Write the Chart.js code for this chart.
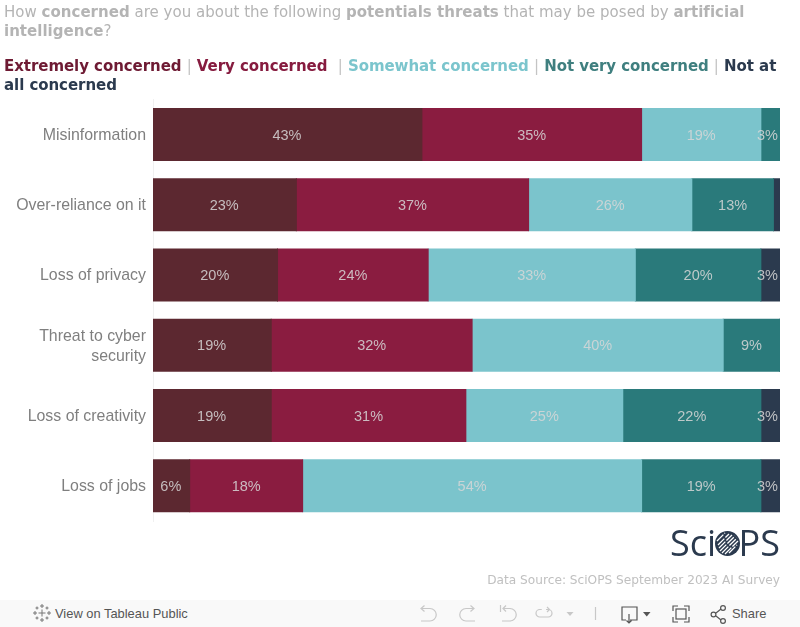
<!DOCTYPE html>
<html>
<head>
<meta charset="utf-8">
<script src="https://cdn.jsdelivr.net/npm/chart.js@4"></script>
<style>
  html, body { margin: 0; padding: 0; background: #fff; overflow: hidden; }
  #wrap { position: relative; width: 800px; height: 627px; }
  #chart { position: absolute; left: 0; top: 0; }
  .txt { position: absolute; white-space: nowrap; font-family: "DejaVu Sans", sans-serif; }
  #title { left: 4px; top: 3px; font-size: 15px; letter-spacing: 0.02px; line-height: 19px; color: #b4b4b4; }
  #legend { left: 4px; top: 57px; font-size: 15px; letter-spacing: -0.055px; line-height: 19px; color: #c4c4c4; font-weight: bold; }
  #legend .sep { font-weight: normal; }
  #source { right: 20px; top: 573px; font-size: 12.17px; color: #c0c0c0; }
  .logo { position: absolute; font-family: "Open Sans", sans-serif; font-weight: 400; font-size: 36px; line-height: 37px; color: #2b3a4e; top: 524px; white-space: nowrap; }
  #toolbar { position: absolute; left: 0; top: 600px; width: 800px; height: 27px; background: #f9f9f9; }
  #toolbar span { position: absolute; top: 6px; font-family: "Liberation Sans", sans-serif; font-size: 12.9px; color: #555; white-space: nowrap; }
  #icons { position: absolute; left: 0; top: 0; }
</style>
</head>
<body>
<div id="wrap">
  <canvas id="chart" width="800" height="627"></canvas>
  <div class="txt" id="title">How <b>concerned</b> are you about the following <b>potentials threats</b> that may be posed by <b>artificial</b><br><b>intelligence</b>?</div>
  <div class="txt" id="legend"></div>
  <div class="logo" style="left:670px">Sci</div>
  <svg style="position:absolute;left:714px;top:530px" width="27" height="27" viewBox="0 0 27 27">
    <defs><clipPath id="disc"><circle cx="13.5" cy="13.5" r="12.5"/></clipPath></defs>
    <circle cx="13.5" cy="13.5" r="12.5" fill="#2b3a4e"/>
    <g clip-path="url(#disc)" stroke="#fff" stroke-width="1.3" stroke-dasharray="9 1.5">
      <path d="M3 11L11 3M4 15L15 4M5 18L18 5M6 21L21 6M8 23L23 8M11 24L24 11M15 23L23 15"/>
    </g>
  </svg>
  <div class="logo" style="left:738.5px">PS</div>
  <div class="txt" id="source">Data Source: SciOPS September 2023 AI Survey</div>
  <div id="toolbar">
    <svg id="icons" width="800" height="27" fill="none" stroke-width="1.2">
      <g stroke="#777" stroke-width="1">
        <path d="M42 9.500v7M38.500 13h7"/>
        <path d="M42 4v4M40 6h4M42 18v4M40 20h4M35 11v4M33 13h4M49 11v4M47 13h4"/>
        <path d="M37 6.500v3M35.500 8h3M47 6.500v3M45.500 8h3M37 16.500v3M35.500 18h3M47 16.500v3M45.500 18h3"/>
      </g>
      <g stroke="#c8c8c8">
        <path d="M422 8.500h8a6.250 6.250 0 0 1 0 12.500h-9M424.500 5.500L421 8.500L424.500 11.500"/>
        <path d="M474 8.500h-8a6.250 6.250 0 0 0 0 12.500h9M470.500 5.500L474 8.500L470.500 11.500"/>
        <path d="M503 8.500h7a6.250 6.250 0 0 1 0 12.500h-8M506 5.500L503 8.500L506 11.500M500.500 5v7"/>
        <path d="M546 9.500h2.250a3.750 3.750 0 0 1 0 7.500h-8.500a3.750 3.750 0 0 1 0-7.500h2M547 7l2.500 2.500L547 12"/>
        <path d="M595.500 7v13"/>
      </g>
      <path d="M566.500 12h7l-3.500 4z" fill="#c8c8c8"/>
      <g stroke="#555">
        <path d="M626 20h-4V7h15v13h-7M629 14v9M626.500 20.500l2.500 2.500l2.500-2.500"/>
        <path d="M673 11V6h5M684 6h5v5M689 17v5h-5M678 22h-5v-5"/>
        <rect x="676" y="9" width="10" height="10"/>
        <circle cx="723" cy="8" r="2.400"/><circle cx="723" cy="21" r="2.400"/><circle cx="713.500" cy="14.500" r="2.400"/>
        <path d="M716 13l5-4M716 16l5 4"/>
      </g>
      <path d="M643 12h7.500l-3.750 4.500z" fill="#555"/>
    </svg>
    <span style="left:55px">View on Tableau Public</span>
    <span style="left:732px">Share</span>
  </div>
</div>
<script>
const categories = ['Misinformation', 'Over-reliance on it', 'Loss of privacy', ['Threat to cyber', 'security'], 'Loss of creativity', 'Loss of jobs'];
const seriesNames = ['Extremely concerned', 'Very concerned', 'Somewhat concerned', 'Not very concerned', 'Not at all concerned'];
const extremely = [43, 23, 20, 19, 19, 6];
const very = [35, 37, 24, 32, 31, 18];
const somewhat = [19, 26, 33, 40, 25, 54];
const notVery = [3, 13, 20, 9, 22, 19];
const notAtAll = [0, 1, 3, 0, 3, 3];
const barColors = ['#5c2830', '#8a1c40', '#7bc4cc', '#2a7a7b', '#2b3a4e'];
const legendColors = ['#6e1a33', '#861b3f', '#7bc5cd', '#3f7f7f', '#2b3a4e'];

// legend line, same breaks as the original
document.getElementById('legend').innerHTML =
  seriesNames.map((name, i) => {
    const html = name === 'Not at all concerned' ? 'Not at<br>all concerned' : name;
    return '<span style="color:' + legendColors[i] + '">' + html + '</span>';
  }).join(' <span class="sep">|</span> ').replace('Very concerned</span> ', 'Very concerned</span>&nbsp; ');

const valueLabels = {
  id: 'valueLabels',
  beforeDraw(chart) {
    // tick text sits 1px lower than chart.js puts it
    chart.scales.y.getLabelItems().forEach((item) => { item.options.translation[1] += 1; });
  },
  afterDatasetsDraw(chart) {
    const ctx = chart.ctx;
    ctx.save();
    ctx.font = '14.5px "Liberation Sans", Arial, sans-serif';
    ctx.fillStyle = 'rgba(215, 215, 215, 0.85)';
    ctx.textAlign = 'center';
    ctx.textBaseline = 'middle';
    chart.data.datasets.forEach((ds, i) => {
      chart.getDatasetMeta(i).data.forEach((bar, j) => {
        const v = ds.data[j];
        if (v < 3) return;
        const text = v + '%';
        const w = ctx.measureText(text).width;
        const cx = (bar.x + bar.base) / 2;
        // keep narrow labels inside the right edge
        const x = Math.min(cx, chart.chartArea.right - 2 - w / 2);
        ctx.fillText(text, x, bar.y + 1);
      });
    });
    ctx.restore();
  },
};

const chart = new Chart(document.getElementById('chart'), {
  type: 'bar',
  data: {
    labels: categories,
    datasets: [extremely, very, somewhat, notVery, notAtAll].map((data, i) => ({
      label: seriesNames[i],
      data,
      backgroundColor: barColors[i],
      borderWidth: 0,
      inflateAmount: 0.5, // closes the hairline seams between segments
      clip: 0,
      categoryPercentage: 0.74,
      barPercentage: 1,
    })),
  },
  options: {
    indexAxis: 'y',
    responsive: false,
    animation: false,
    layout: { padding: { left: 0, right: 20, top: 99.4, bottom: 106 } },
    plugins: { legend: { display: false }, tooltip: { enabled: false } },
    scales: {
      x: { stacked: true, min: 0.16, max: 100.05, display: false },
      y: {
        stacked: true,
        afterFit: (scale) => { scale.width = 153; },
        grid: { display: false, drawTicks: false },
        border: { display: true, color: '#f0f0f0' },
        ticks: {
          color: '#7f7f7f',
          padding: 7,
          font: { family: '"Liberation Sans", Arial, sans-serif', size: 15.9, lineHeight: 1.25 },
        },
      },
    },
  },
  plugins: [valueLabels],
});
</script>
</body>
</html>
